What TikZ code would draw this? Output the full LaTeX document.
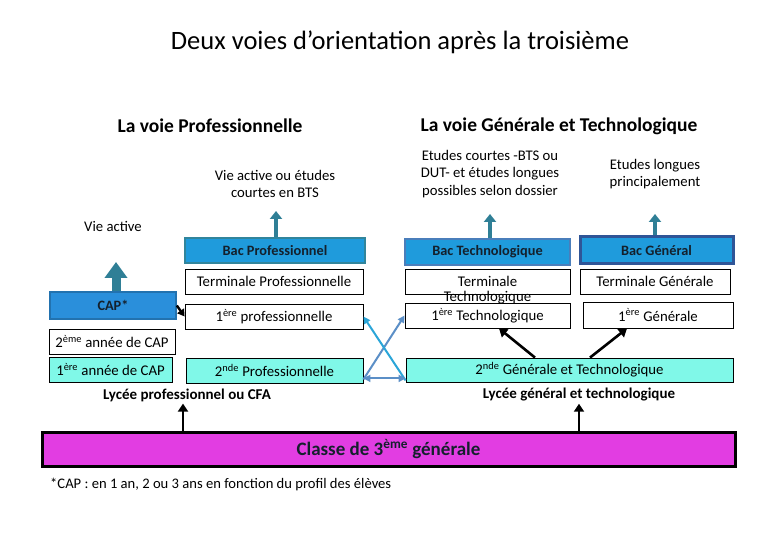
\documentclass[tikz,border=0pt]{standalone}
\usepackage{fontspec}
\setmainfont{Carlito}
\usetikzlibrary{arrows.meta}
\definecolor{bacblue}{HTML}{1F9BDC}
\definecolor{capblue}{HTML}{2A8FDB}
\definecolor{bordteal}{HTML}{31859C}
\definecolor{bordsteel}{HTML}{4A7EBB}
\definecolor{bordnavy}{HTML}{2F5597}
\definecolor{aquam}{HTML}{80F8E8}
\definecolor{arrteal}{HTML}{2F7F96}
\definecolor{magen}{HTML}{E23DE2}
\definecolor{steel}{HTML}{5B8FC7}
\definecolor{brightb}{HTML}{2AA5D8}
\definecolor{darktext}{HTML}{14202C}
\tikzset{
  sz/.style 2 args={minimum width=#1, minimum height=#2},
  box/.style={draw=black, line width=0.8pt, fill=white, inner sep=0pt, font=\fontsize{14.8}{17}\selectfont},
  bac/.style={box, fill=bacblue, line width=2.4pt, text=darktext, font=\bfseries\fontsize{14.3}{16}\selectfont},
  aqua/.style={box, fill=aquam},
  txt/.style={inner sep=0pt, align=center, font=\fontsize{14.7}{17.8}\selectfont},
  head/.style={inner sep=0pt, font=\bfseries\fontsize{19.5}{22}\selectfont},
  lyc/.style={inner sep=0pt, font=\bfseries\fontsize{15}{17}\selectfont},
  blk/.style={-{Triangle[width=10pt,length=8pt]}, line width=2.6pt, black},
  blksmall/.style={-{Triangle[width=8pt,length=7pt]}, line width=2.4pt, black},
  tealsmall/.style={-{Triangle[width=12pt,length=8pt]}, line width=4.5pt, arrteal},
  tealbig/.style={-{Triangle[width=22pt,length=16pt]}, line width=9pt, arrteal},
  crossarr/.style={-{Triangle[width=7pt,length=7pt]}, line width=2pt}
}
\begin{document}
\begin{tikzpicture}[x=1pt,y=-1pt]
\useasboundingbox[fill=white] (0,0) rectangle (780,540);

% titles
\node[inner sep=0pt, font=\fontsize{26.5}{30}\selectfont] (title) at (400,42) {Deux voies d’orientation après la troisième};
\node[head] (hpro) at (210,126) {La voie Professionnelle};
\node[head] (hgt) at (559,126) {La voie Générale et Technologique};

\node[txt] (vaout) at (275,184) {Vie active ou études\\courtes en BTS};
\node[txt] (ecout) at (490,174) {Etudes courtes -BTS ou\\DUT- et études longues\\possibles selon dossier};
\node[txt] (elout) at (655,174) {Etudes longues\\principalement};
\node[txt] (vact) at (113,226) {Vie active};

% professional path
\node[bac, draw=bordteal, sz={180pt}{25pt}] (bacp) at (275,250.5) {Bac Professionnel};
\node[box, sz={178pt}{25pt}] (tp) at (274,281.5) {Terminale Professionnelle};
\node[box, sz={178pt}{25pt}] (pp) at (274,316.5) {1\textsuperscript{ère} professionnelle};
\node[aqua, sz={177pt}{25pt}] (sp) at (274.5,370.5) {2\textsuperscript{nde} Professionnelle};

\node[bac, fill=capblue, draw=capblue!80!black, line width=1.6pt, sz={126pt}{27pt}] (cap) at (113,305.5) {CAP*};
\node[box, sz={126pt}{25pt}] (cap2) at (112,341.5) {2\textsuperscript{ème} année de CAP};
\node[aqua, sz={123pt}{25pt}] (cap1) at (110.5,369.5) {1\textsuperscript{ère} année de CAP};

% general / technological path
\node[bac, draw=bordsteel, sz={165pt}{26pt}] (bact) at (487.5,252) {Bac Technologique};
\node[bac, draw=bordnavy, line width=3pt, sz={153pt}{27pt}] (bacg) at (656.5,250.5) {Bac Général};
\node[box, sz={165pt}{25pt}] (tt) at (487.5,281.5) {\smash{\raisebox{-5pt}{\begin{tabular}[t]{@{}c@{}}Terminale\\[-2pt]Technologique\end{tabular}}}};
\node[box, sz={150pt}{25pt}] (tg) at (655,281.5) {Terminale Générale};
\node[box, sz={165pt}{25pt}, fill=none] (pt) at (487.5,315.5) {1\textsuperscript{ère} Technologique};
\node[box, sz={150pt}{26pt}] (pg) at (658,315) {1\textsuperscript{ère} Générale};
\node[aqua, sz={327pt}{24pt}] (sgt) at (569.5,370) {2\textsuperscript{nde} Générale et Technologique};

\node[lyc] (lpro) at (187,395) {Lycée professionnel ou CFA};
\node[lyc] (lgt) at (579,395) {Lycée général et technologique};

\node[draw=black, line width=3pt, fill=magen, inner sep=0pt, sz={693pt}{34pt}, text=darktext, font=\bfseries\fontsize{19}{22}\selectfont] (cl) at (388.5,449) {Classe de 3\textsuperscript{ème} générale};

\node[inner sep=0pt, anchor=west, font=\fontsize{14.6}{17}\selectfont] (foot) at (50,484) {*CAP : en 1 an, 2 ou 3 ans en fonction du profil des élèves};

% arrow end coordinates
\coordinate (apro) at (276,211);
\coordinate (atec) at (490,214);
\coordinate (agen) at (655,214);
\coordinate (acap) at (116,262);

% teal block arrows
\draw[tealsmall] (bacp.north -| apro) -- (apro);
\draw[tealsmall] (bact.north -| atec) -- (atec);
\draw[tealsmall] (bacg.north -| agen) -- (agen);
\draw[tealbig] (cap.north -| acap) -- (acap);

% black arrows
\draw[blksmall] (cap.east) -- (pp.west);
\draw[blk] ([xshift=-34.5pt]sgt.north) -- ([xshift=11.5pt]pt.south);
\draw[blk] ([xshift=20.5pt]sgt.north) -- ([xshift=-31pt]pg.south);
\draw[blk] ([xshift=-4pt]cl.north -| lpro.south) -- ([xshift=-4pt,yshift=-2pt]lpro.south);
\draw[blk] (cl.north -| lgt.south) -- ([yshift=-2pt]lgt.south);

% cross arrows
\draw[crossarr, steel] ([yshift=4pt]sp.south east) -- (pt.west);
\draw[crossarr, brightb] ([yshift=2pt]sgt.south west) -- (pp.east);
\draw[crossarr, steel, {Triangle[width=7pt,length=7pt]}-{Triangle[width=7pt,length=7pt]}] ([yshift=5pt]sp.south east) -- ([yshift=5pt]sp.south east -| sgt.west);
\end{tikzpicture}
\end{document}
